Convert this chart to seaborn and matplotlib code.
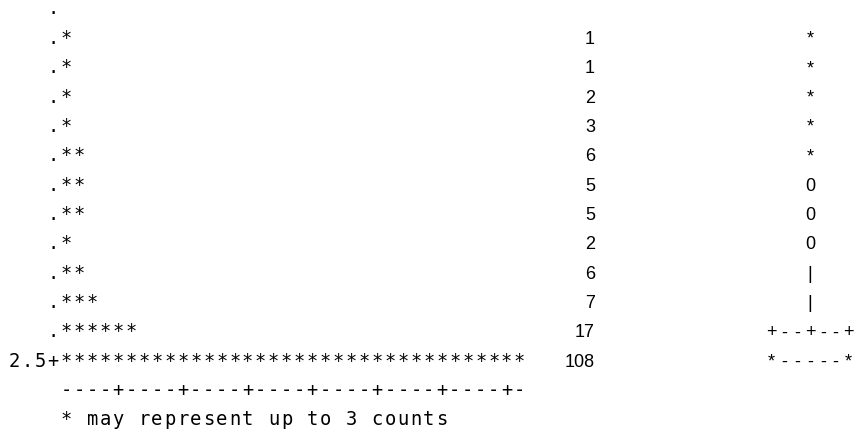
import matplotlib
matplotlib.use("Agg")
import matplotlib.pyplot as plt
import seaborn as sns
import numpy as np
import pandas as pd

# Frequency of each histogram bin, top bin first (bottom bin is labelled 2.5)
bin_counts = [0, 1, 1, 2, 3, 6, 5, 5, 2, 6, 7, 17, 108]
bin_labels = ["", "", "", "", "", "", "", "", "", "", "", "", "2.5"]
# Boxplot glyph drawn on each bin row
box_glyphs = ["", "*", "*", "*", "*", "*", "0", "0", "0", "|", "|",
              "+--+--+", "*-----*"]
counts_per_star = 3
axis_ticks = "----+----+----+----+----+----+----+-"
footnote = f"* may represent up to {counts_per_star} counts"

sns.set_theme(style="white")
plt.rcParams["font.family"] = ["DejaVu Sans Mono", "DejaVu Sans"]

W, H, DPI = 858, 440, 100
fig = plt.figure(figsize=(W / DPI, H / DPI), dpi=DPI)
ax = fig.add_axes([0, 0, 1, 1])
ax.set_xlim(0, W)
ax.set_ylim(H, 0)
ax.set_axis_off()

# character grid of the listing
CELL = 12.95
X0 = 8.0
Y0 = 14.5
ROW = 29.35
COUNT_RIGHT = 595
BOX_CENTER = 810
MONO = dict(family="DejaVu Sans Mono", size=13.5, color="black",
            ha="center", va="baseline")
PROP = dict(family="Liberation Sans", size=13, color="black", va="baseline")


def put_chars(text, x_left, row, cell=CELL, style=MONO):
    """Place a string one character per fixed-width cell."""
    y = Y0 + ROW * row
    for i, ch in enumerate(text):
        if ch != " ":
            ax.text(x_left + cell * (i + 0.5), y, ch, **style)


hist = pd.DataFrame({"count": bin_counts, "label": bin_labels,
                     "box": box_glyphs})
hist["stars"] = np.ceil(hist["count"] / counts_per_star).astype(int)

box_style = dict(PROP, ha="center")
BOX_CELL = 12.8
for row, rec in hist.iterrows():
    lead = "+" if rec["label"] else "."
    line = rec["label"].rjust(3) + lead + "*" * rec["stars"]
    put_chars(line, X0, row)
    y = Y0 + ROW * row
    if rec["count"] > 0:
        ax.text(COUNT_RIGHT, y, str(rec["count"]), ha="right", **PROP)
    g = rec["box"]
    if g:
        put_chars(g, BOX_CENTER - BOX_CELL * len(g) / 2, row,
                  cell=BOX_CELL, style=box_style)

n_rows = len(hist)
put_chars(axis_ticks, X0 + 4 * CELL, n_rows)
put_chars(footnote, X0 + 4 * CELL, n_rows + 1)

fig.savefig("out.png", dpi=DPI, facecolor="white")
